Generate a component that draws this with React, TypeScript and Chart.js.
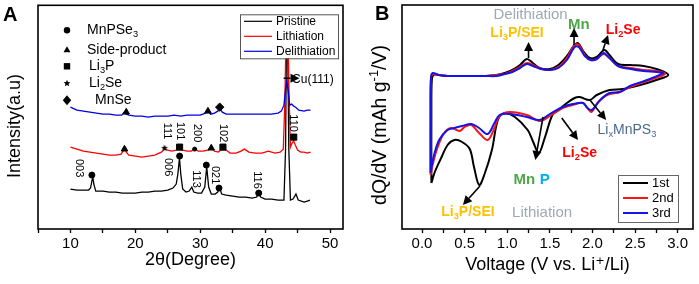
import React, { useEffect, useRef } from 'react';
import { Chart, registerables } from 'chart.js';

Chart.register(...registerables);

const FONT = '"Liberation Sans", Arial, Helvetica, "DejaVu Sans", sans-serif';

// ================= Panel A: XRD patterns =================
const seriesNamesA = ['Pristine', 'Lithiation', 'Delithiation'];
const seriesColorsA = ['#000000', '#ff0000', '#0000dd'];

const pristineTheta = [10, 11, 12, 12.8, 13.1, 13.3, 13.45, 13.6, 13.9, 15, 16, 17, 18, 19, 20, 21, 22, 23, 24, 25, 25.8, 26.3, 26.55, 26.8, 27.0, 27.3, 27.8, 28.3, 28.7, 29.0, 29.6, 30.2, 30.7, 31.0, 31.3, 31.7, 32.3, 32.7, 32.95, 33.3, 34, 35, 36, 37, 38, 38.7, 39.0, 39.3, 40, 41, 42, 42.9, 43.15, 43.3, 43.45, 43.65, 43.9, 44.3, 44.75, 45.1, 46, 46.5, 46.9];
const pristineI = [40, 39, 39, 39, 41, 48, 52, 45, 38, 38, 37, 37, 36, 36, 36, 37, 37, 38, 38, 39, 41, 45, 55, 71, 55, 40, 37, 38, 42, 37, 36, 36, 42, 62, 42, 35, 35, 37, 42, 35, 34, 33, 32, 32, 31, 32, 37, 32, 30, 30, 29, 29, 80, 198, 198, 80, 29, 30, 35, 29, 27, 28, 29];

const lithTheta = [10, 11, 12, 13, 14, 15, 16, 17, 17.8, 18.1, 18.35, 18.6, 19, 20, 21, 22, 23, 24, 24.5, 25, 25.6, 26.3, 26.85, 27.3, 28, 28.6, 29.15, 29.7, 30.4, 31.2, 31.7, 32.2, 32.8, 33.5, 34, 34.6, 35.5, 36.3, 36.8, 37.5, 38.5, 39.5, 40.5, 41.5, 42.3, 42.8, 43.05, 43.25, 43.5, 43.7, 43.9, 44.15, 44.4, 44.65, 45.0, 45.5, 46, 46.5, 47];
const lithI = [82, 80, 78, 77, 76, 75, 74, 74, 75, 78, 81, 77, 74, 73, 72, 73, 74, 77, 80, 79, 78, 79, 82, 79, 78, 78, 80, 78, 78, 79, 81, 78, 77, 81, 79, 76, 76, 78, 80, 77, 76, 76, 78, 76, 77, 80, 130, 205, 205, 130, 82, 86, 88, 84, 79, 77, 77, 76, 77];

const delithTheta = [10, 11, 12, 13, 14, 15, 16, 17, 17.9, 18.3, 18.6, 19, 20, 21, 22, 23, 24, 25, 26, 27, 28, 29, 30, 30.8, 31.2, 31.6, 32.2, 32.7, 33.0, 33.4, 34, 35, 36, 37, 38, 39, 40, 41, 42, 42.5, 42.9, 43.15, 43.35, 43.55, 43.8, 44.1, 44.4, 44.7, 45.2, 46, 46.5, 47];
const delithI = [122, 119, 118, 117, 116, 115, 115, 114, 114, 117, 115, 114, 113, 113, 112, 113, 113, 113, 114, 113, 114, 114, 114, 116, 118, 115, 116, 118, 121, 117, 115, 115, 115, 115, 115, 115, 115, 115, 116, 118, 124, 140, 148, 138, 124, 125, 123, 122, 119, 118, 119, 119];

// phase markers on the patterns
const circleTheta = [13.3, 26.82, 30.94, 32.89, 39.01];
const circleI = [54, 73, 64, 41, 36];
const smallDotTheta = [29.14];
const smallDotI = [80];
const triangleTheta = [18.33, 31.7, 18.6, 31.19];
const triangleI = [80, 81, 117, 118];
const squareTheta = [26.82, 33.5, 44.41];
const squareI = [82, 82, 92];
const starTheta = [24.5];
const starI = [81];
const diamondTheta = [33.0];
const diamondI = [122];

// hkl labels (rotated)
const hklLabels = ['003', '006', '113', '021', '116', '111', '101', '200', '102', '110'];
const hklTheta = [11.39, 24.97, 29.29, 32.22, 38.7, 24.81, 26.82, 29.44, 33.46, 44.26];
const hklI = [61, 62, 50, 54, 49, 98, 98, 96, 96, 106];

// phase legend
const phaseNames = ['MnPSe_3', 'Side-product', 'Li_3P', 'Li_2Se', 'MnSe'];
const phaseShapes = ['circle', 'triangle', 'square', 'star', 'diamond'];

// ================= Panel B: dQ/dV =================
const cycleNames = ['1st', '2nd', '3rd'];
const cycleColors = ['#000000', '#ff1414', '#1414e6'];

const cycle1V = [0.11, 0.11, 0.115, 0.135, 0.2, 0.3, 0.45, 0.6, 0.75, 0.87, 0.97, 1.06, 1.15, 1.23, 1.3, 1.38, 1.5, 1.6, 1.7, 1.78, 1.83, 1.9, 1.97, 2.05, 2.14, 2.2, 2.3, 2.45, 2.6, 2.75, 2.89, 2.75, 2.56, 2.36, 2.2, 2.05, 1.97, 1.85, 1.79, 1.7, 1.6, 1.53, 1.44, 1.37, 1.3, 1.24, 1.09, 0.97, 0.89, 0.82, 0.73, 0.67, 0.61, 0.56, 0.47, 0.38, 0.3, 0.23, 0.15, 0.11];
const cycle1Q = [46, 120, 149, 154, 154, 153, 153, 153, 153, 154, 156, 159, 164, 170, 166, 161, 160, 164, 173, 183, 186, 177, 171, 172, 179, 174, 165, 164, 163, 160, 154, 149, 144, 140, 139, 134, 129, 132, 131, 126, 119, 114, 91, 76, 88, 99, 112, 116, 109, 79, 54, 44, 62, 80, 87, 89, 84, 72, 57, 46];

const cycle2V = [0.1, 0.1, 0.105, 0.125, 0.2, 0.3, 0.45, 0.6, 0.75, 0.87, 0.97, 1.06, 1.15, 1.23, 1.3, 1.4, 1.5, 1.6, 1.7, 1.79, 1.84, 1.91, 1.98, 2.05, 2.13, 2.2, 2.3, 2.45, 2.6, 2.75, 2.85, 2.64, 2.44, 2.32, 2.17, 2.06, 1.99, 1.95, 1.89, 1.77, 1.65, 1.5, 1.38, 1.23, 1.03, 0.91, 0.85, 0.77, 0.67, 0.58, 0.5, 0.44, 0.34, 0.26, 0.18, 0.13, 0.1];
const cycle2Q = [54, 120, 150, 155, 154, 153, 153, 153, 153, 154, 155, 158, 162, 166, 164, 160, 159, 162, 171, 184, 184, 174, 169, 170, 175, 171, 163, 161, 159, 158, 155, 148, 142, 137, 134, 126, 117, 120, 126, 124, 121, 113, 108, 114, 117, 113, 101, 89, 96, 104, 102, 98, 101, 96, 81, 66, 54];

const cycle3V = [0.1, 0.1, 0.105, 0.125, 0.2, 0.3, 0.45, 0.6, 0.75, 0.87, 0.97, 1.06, 1.15, 1.23, 1.3, 1.4, 1.5, 1.6, 1.7, 1.79, 1.84, 1.91, 1.98, 2.05, 2.13, 2.2, 2.3, 2.45, 2.6, 2.75, 2.83, 2.64, 2.44, 2.32, 2.2, 2.09, 1.99, 1.93, 1.89, 1.77, 1.65, 1.5, 1.38, 1.23, 1.03, 0.91, 0.85, 0.77, 0.67, 0.58, 0.47, 0.38, 0.3, 0.2, 0.13, 0.1];
const cycle3Q = [56, 120, 151, 156, 154, 153, 153, 153, 153, 153, 155, 157, 161, 165, 163, 160, 159, 161, 169, 182, 182, 173, 169, 170, 176, 171, 163, 160, 158, 157, 156, 149, 143, 137, 136, 129, 119, 122, 126, 125, 122, 115, 109, 112, 115, 114, 106, 95, 101, 105, 103, 101, 99, 89, 70, 56];

// annotation labels in panel B (data coordinates)
const bLabels = [
  { text: 'Delithiation', v: 1.274, q: 214, color: '#9ea9b6', weight: 'normal', size: 15 },
  { text: 'Li_3P/SEI', v: 1.115, q: 196, color: '#ffc000', weight: 'bold', size: 14 },
  { text: 'Mn', v: 1.839, q: 204, color: '#4ea84a', weight: 'bold', size: 15 },
  { text: 'Li_2Se', v: 2.36, q: 199, color: '#ff0000', weight: 'bold', size: 14 },
  { text: 'Li_xMnPS_3', v: 2.404, q: 99, color: '#4a6a90', weight: 'normal', size: 14 },
  { text: 'Li_2Se', v: 1.85, q: 76, color: '#ff0000', weight: 'bold', size: 14 },
  { text: 'Mn', v: 1.2, q: 49, color: '#4ea84a', weight: 'bold', size: 15 },
  { text: 'P', v: 1.44, q: 49, color: '#00b0f0', weight: 'bold', size: 15 },
  { text: 'Li_3P/SEI', v: 0.539, q: 17, color: '#ffc000', weight: 'bold', size: 14 },
  { text: 'Lithiation', v: 1.409, q: 16, color: '#9ea9b6', weight: 'normal', size: 15 },
];
const bArrowFromV = [1.25, 1.784, 2.124, 0.68, 1.42, 1.64, 1.97];
const bArrowFromQ = [171, 184, 179, 43, 112, 111, 129];
const bArrowToV = [1.25, 1.784, 2.183, 0.48, 1.33, 1.83, 2.16];
const bArrowToQ = [187, 201, 194, 24, 69, 89, 109];

// ================= helpers =================
type Seg = { t: string; mode: number };
function richSegs(s: string): Seg[] {
  const segs: Seg[] = [];
  let i = 0;
  while (i < s.length) {
    const c = s[i];
    if ((c === '_' || c === '^') && i + 1 < s.length) {
      segs.push({ t: s[i + 1], mode: c === '_' ? 1 : 2 });
      i += 2;
    } else {
      const last = segs[segs.length - 1];
      if (last && last.mode === 0) last.t += c;
      else segs.push({ t: c, mode: 0 });
      i++;
    }
  }
  return segs;
}

function drawRich(ctx: CanvasRenderingContext2D, s: string, x: number, y: number, size: number, color: string, weight = 'normal', align = 'left') {
  const segs = richSegs(s);
  const fontFor = (m: number) => `${weight} ${m ? size * 0.66 : size}px ${FONT}`;
  let total = 0;
  const widths = segs.map((sg) => {
    ctx.font = fontFor(sg.mode);
    const w = ctx.measureText(sg.t).width;
    total += w;
    return w;
  });
  let cx = align === 'center' ? x - total / 2 : align === 'right' ? x - total : x;
  ctx.textBaseline = 'middle';
  ctx.textAlign = 'left';
  ctx.fillStyle = color;
  segs.forEach((sg, i) => {
    ctx.font = fontFor(sg.mode);
    const dy = sg.mode === 1 ? size * 0.3 : sg.mode === 2 ? -size * 0.35 : 0;
    ctx.fillText(sg.t, cx, y + dy);
    cx += widths[i];
  });
}

function drawRotatedTitle(ctx: CanvasRenderingContext2D, s: string, x: number, y: number, size: number) {
  ctx.save();
  ctx.translate(x, y);
  ctx.rotate(-Math.PI / 2);
  drawRich(ctx, s, 0, 0, size, '#000', 'normal', 'center');
  ctx.restore();
}

function drawArrow(ctx: CanvasRenderingContext2D, x1: number, y1: number, x2: number, y2: number, head = 9, half = 4.5, lw = 1.6) {
  const ang = Math.atan2(y2 - y1, x2 - x1);
  const bx = x2 - Math.cos(ang) * head;
  const by = y2 - Math.sin(ang) * head;
  ctx.strokeStyle = '#000';
  ctx.lineWidth = lw;
  ctx.beginPath();
  ctx.moveTo(x1, y1);
  ctx.lineTo(bx, by);
  ctx.stroke();
  ctx.fillStyle = '#000';
  ctx.beginPath();
  ctx.moveTo(x2, y2);
  ctx.lineTo(bx + Math.sin(ang) * half, by - Math.cos(ang) * half);
  ctx.lineTo(bx - Math.sin(ang) * half, by + Math.cos(ang) * half);
  ctx.closePath();
  ctx.fill();
}

function starPath(ctx: CanvasRenderingContext2D, cx: number, cy: number, r: number) {
  ctx.beginPath();
  for (let k = 0; k < 10; k++) {
    const rr = k % 2 === 0 ? r : r * 0.45;
    const a = -Math.PI / 2 + (k * Math.PI) / 5;
    const px = cx + rr * Math.cos(a);
    const py = cy + rr * Math.sin(a);
    if (k === 0) ctx.moveTo(px, py);
    else ctx.lineTo(px, py);
  }
  ctx.closePath();
}

function makeStar(r: number) {
  const c = document.createElement('canvas');
  const s = Math.ceil(r * 2 + 2);
  c.width = s;
  c.height = s;
  const g = c.getContext('2d')!;
  g.fillStyle = '#000';
  starPath(g, s / 2, s / 2, r);
  g.fill();
  return c;
}

function drawShape(ctx: CanvasRenderingContext2D, shape: string, x: number, y: number) {
  ctx.fillStyle = '#000';
  ctx.beginPath();
  if (shape === 'circle') {
    ctx.arc(x, y, 3.2, 0, Math.PI * 2);
  } else if (shape === 'triangle') {
    const r = 4;
    ctx.moveTo(x, y - r);
    ctx.lineTo(x + r * 0.87, y + r * 0.5);
    ctx.lineTo(x - r * 0.87, y + r * 0.5);
    ctx.closePath();
  } else if (shape === 'square') {
    ctx.rect(x - 3.2, y - 3.2, 6.4, 6.4);
  } else if (shape === 'star') {
    starPath(ctx, x, y, 3.6);
  } else {
    ctx.moveTo(x, y - 5);
    ctx.lineTo(x + 4.2, y);
    ctx.lineTo(x, y + 5);
    ctx.lineTo(x - 4.2, y);
    ctx.closePath();
  }
  ctx.fill();
}

const pts = (xs: number[], ys: number[]) => xs.map((x, i) => ({ x, y: ys[i] }));

function markerSet(xs: number[], ys: number[], style: any, radius: number) {
  return {
    data: pts(xs, ys),
    showLine: false,
    pointStyle: style,
    pointRadius: radius,
    pointBackgroundColor: '#000',
    pointBorderColor: '#000',
    pointBorderWidth: 1,
    order: 0,
  };
}

function frame(ctx: CanvasRenderingContext2D, ca: any) {
  ctx.strokeStyle = '#000';
  ctx.lineWidth = 1.6;
  ctx.strokeRect(ca.left, ca.top, ca.right - ca.left, ca.bottom - ca.top);
}

// ================= chart configs =================
function configA(star: HTMLCanvasElement): any {
  const curves = [
    [pristineTheta, pristineI],
    [lithTheta, lithI],
    [delithTheta, delithI],
  ].map(([xs, ys], i) => ({
    data: pts(xs, ys),
    showLine: true,
    borderColor: seriesColorsA[i],
    borderWidth: 1.3,
    pointRadius: 0,
    tension: 0,
    order: 3 - i,
  }));
  const plugin = {
    id: 'panelA',
    afterDatasetsDraw(chart: any) {
      const { ctx, chartArea: ca, scales } = chart;
      const xs = scales.x;
      const ys = scales.y;
      ctx.save();
      // hkl labels
      ctx.fillStyle = '#000';
      ctx.font = `11px ${FONT}`;
      hklLabels.forEach((lab, i) => {
        ctx.save();
        ctx.translate(xs.getPixelForValue(hklTheta[i]), ys.getPixelForValue(hklI[i]));
        ctx.rotate(Math.PI / 2);
        ctx.textAlign = 'center';
        ctx.textBaseline = 'middle';
        ctx.fillText(lab, 0, 0);
        ctx.restore();
      });
      // Cu(111)
      const cuY = ys.getPixelForValue(151);
      drawRich(ctx, 'Cu(111)', xs.getPixelForValue(44.15), cuY + 1, 12, '#000');
      drawArrow(ctx, xs.getPixelForValue(42.85), cuY, xs.getPixelForValue(45.3), cuY, 9, 4.5, 1.5);
      // series legend box
      const lx = ca.left + 202;
      const ly = ca.top + 9;
      ctx.fillStyle = '#fff';
      ctx.fillRect(lx, ly, 98, 44);
      ctx.strokeStyle = '#555';
      ctx.lineWidth = 1;
      ctx.strokeRect(lx + 0.5, ly + 0.5, 98, 44);
      seriesNamesA.forEach((n, i) => {
        const ry = ly + 7 + i * 15;
        ctx.strokeStyle = seriesColorsA[i];
        ctx.lineWidth = 1.2;
        ctx.beginPath();
        ctx.moveTo(lx + 4, ry);
        ctx.lineTo(lx + 32, ry);
        ctx.stroke();
        drawRich(ctx, n, lx + 36, ry + 0.5, 12, '#000');
      });
      // phase legend
      const rowsY = [25, 45, 61, 78, 95];
      const textX = [49, 49, 51, 51, 57];
      phaseNames.forEach((n, i) => {
        drawShape(ctx, phaseShapes[i], ca.left + 29, ca.top + rowsY[i]);
        drawRich(ctx, n, ca.left + textX[i], ca.top + rowsY[i], 14, '#000');
      });
      frame(ctx, ca);
      // y title
      drawRotatedTitle(ctx, 'Intensity(a.u)', 15, 126, 18);
      // panel letter
      ctx.fillStyle = '#000';
      ctx.font = `bold 20px ${FONT}`;
      ctx.textAlign = 'left';
      ctx.textBaseline = 'middle';
      ctx.fillText('A', 3, 15);
      ctx.restore();
    },
  };
  return {
    type: 'scatter',
    data: {
      datasets: [
        markerSet(circleTheta, circleI, 'circle', 3),
        markerSet(smallDotTheta, smallDotI, 'circle', 2),
        markerSet(triangleTheta, triangleI, 'triangle', 3.8),
        markerSet(squareTheta, squareI, 'rect', 4.3),
        markerSet(starTheta, starI, star, 4),
        markerSet(diamondTheta, diamondI, 'rectRot', 4.2),
        ...curves,
      ],
    },
    options: {
      animation: false,
      responsive: false,
      devicePixelRatio: 1,
      layout: { padding: { left: 0, right: 7, top: 5, bottom: 0 } },
      plugins: { legend: { display: false }, tooltip: { enabled: false } },
      scales: {
        x: {
          type: 'linear',
          min: 5,
          max: 52,
          afterFit: (s: any) => {
            s.height = 55;
          },
          border: { display: false },
          grid: { display: true, drawOnChartArea: false, drawTicks: true, tickLength: 4, tickWidth: 1.3, tickColor: '#000' },
          ticks: {
            stepSize: 5,
            autoSkip: false,
            includeBounds: false,
            maxRotation: 0,
            padding: 2,
            color: '#000',
            font: { family: FONT, size: 15 },
            callback: (v: any) => (Math.abs(v % 10) < 1e-6 ? String(v) : ''),
          },
          title: { display: true, text: '2θ(Degree)', color: '#000', font: { family: FONT, size: 18 }, padding: { top: 0, bottom: 13 } },
        },
        y: {
          type: 'linear',
          min: 0,
          max: 224,
          afterFit: (s: any) => {
            s.width = 38;
          },
          border: { display: false },
          grid: { display: false },
          ticks: { display: false },
          title: { display: false },
        },
      },
    },
    plugins: [plugin],
  };
}

function configB(): any {
  const cycles = [
    [cycle1V, cycle1Q],
    [cycle2V, cycle2Q],
    [cycle3V, cycle3Q],
  ].map(([xs, ys], i) => ({
    data: pts(xs, ys),
    showLine: true,
    borderColor: cycleColors[i],
    borderWidth: 2,
    pointRadius: 0,
    tension: 0.35,
    order: 2 - i,
  }));
  const plugin = {
    id: 'panelB',
    afterDatasetsDraw(chart: any) {
      const { ctx, chartArea: ca, scales } = chart;
      const xs = scales.x;
      const ys = scales.y;
      ctx.save();
      bLabels.forEach((l) => {
        drawRich(ctx, l.text, xs.getPixelForValue(l.v), ys.getPixelForValue(l.q), l.size, l.color, l.weight, 'center');
      });
      bArrowFromV.forEach((v, i) => {
        drawArrow(ctx, xs.getPixelForValue(v), ys.getPixelForValue(bArrowFromQ[i]), xs.getPixelForValue(bArrowToV[i]), ys.getPixelForValue(bArrowToQ[i]), 9, 4.5, 1.6);
      });
      // legend
      const lx = ca.right - 75;
      const ly = ca.bottom - 54;
      ctx.fillStyle = '#fff';
      ctx.fillRect(lx, ly, 60, 47);
      ctx.strokeStyle = '#666';
      ctx.lineWidth = 1;
      ctx.strokeRect(lx + 0.5, ly + 0.5, 60, 47);
      cycleNames.forEach((n, i) => {
        const ry = ly + 8 + i * 15;
        ctx.strokeStyle = cycleColors[i];
        ctx.lineWidth = 2;
        ctx.beginPath();
        ctx.moveTo(lx + 5, ry);
        ctx.lineTo(lx + 30, ry);
        ctx.stroke();
        drawRich(ctx, n, lx + 34, ry + 0.5, 13, '#000');
      });
      frame(ctx, ca);
      // y title
      drawRotatedTitle(ctx, 'dQ/dV (mAh g^-^1/V)', 31, 125, 19.5);
      ctx.fillStyle = '#000';
      ctx.font = `bold 20px ${FONT}`;
      ctx.textAlign = 'left';
      ctx.textBaseline = 'middle';
      ctx.fillText('B', 25, 14);
      ctx.restore();
    },
  };
  return {
    type: 'scatter',
    data: { datasets: cycles },
    options: {
      animation: false,
      responsive: false,
      devicePixelRatio: 1,
      layout: { padding: { left: 0, right: 6, top: 5, bottom: 0 } },
      plugins: { legend: { display: false }, tooltip: { enabled: false } },
      scales: {
        x: {
          type: 'linear',
          min: -0.235,
          max: 3.18,
          afterFit: (s: any) => {
            s.height = 55;
          },
          border: { display: false },
          grid: { display: true, drawOnChartArea: false, drawTicks: true, tickLength: 4, tickWidth: 1.3, tickColor: '#000' },
          ticks: {
            stepSize: 0.25,
            autoSkip: false,
            includeBounds: false,
            maxRotation: 0,
            padding: 2,
            color: '#000',
            font: { family: FONT, size: 15 },
            callback: (v: any) => (Math.abs(v * 2 - Math.round(v * 2)) < 1e-6 ? Number(v).toFixed(1) : ''),
          },
          title: { display: true, text: 'Voltage (V vs. Li⁺/Li)', color: '#000', font: { family: FONT, size: 18 }, padding: { top: 0, bottom: 8 } },
        },
        y: {
          type: 'linear',
          min: 0,
          max: 224,
          afterFit: (s: any) => {
            s.width = 52;
          },
          border: { display: false },
          grid: { display: false },
          ticks: { display: false },
          title: { display: false },
        },
      },
    },
    plugins: [plugin],
  };
}

export default function App() {
  const refA = useRef<HTMLCanvasElement>(null);
  const refB = useRef<HTMLCanvasElement>(null);
  useEffect(() => {
    const star = makeStar(3.6);
    const a = new Chart(refA.current as HTMLCanvasElement, configA(star));
    const b = new Chart(refB.current as HTMLCanvasElement, configB());
    return () => {
      a.destroy();
      b.destroy();
    };
  }, []);
  return (
    <div style={{ position: 'fixed', left: 0, top: 0, width: 699, height: 284, background: '#fff', overflow: 'hidden' }}>
      <canvas ref={refA} width={350} height={284} style={{ position: 'absolute', left: 0, top: 0, width: 350, height: 284 }} />
      <canvas ref={refB} width={349} height={284} style={{ position: 'absolute', left: 350, top: 0, width: 349, height: 284 }} />
    </div>
  );
}
